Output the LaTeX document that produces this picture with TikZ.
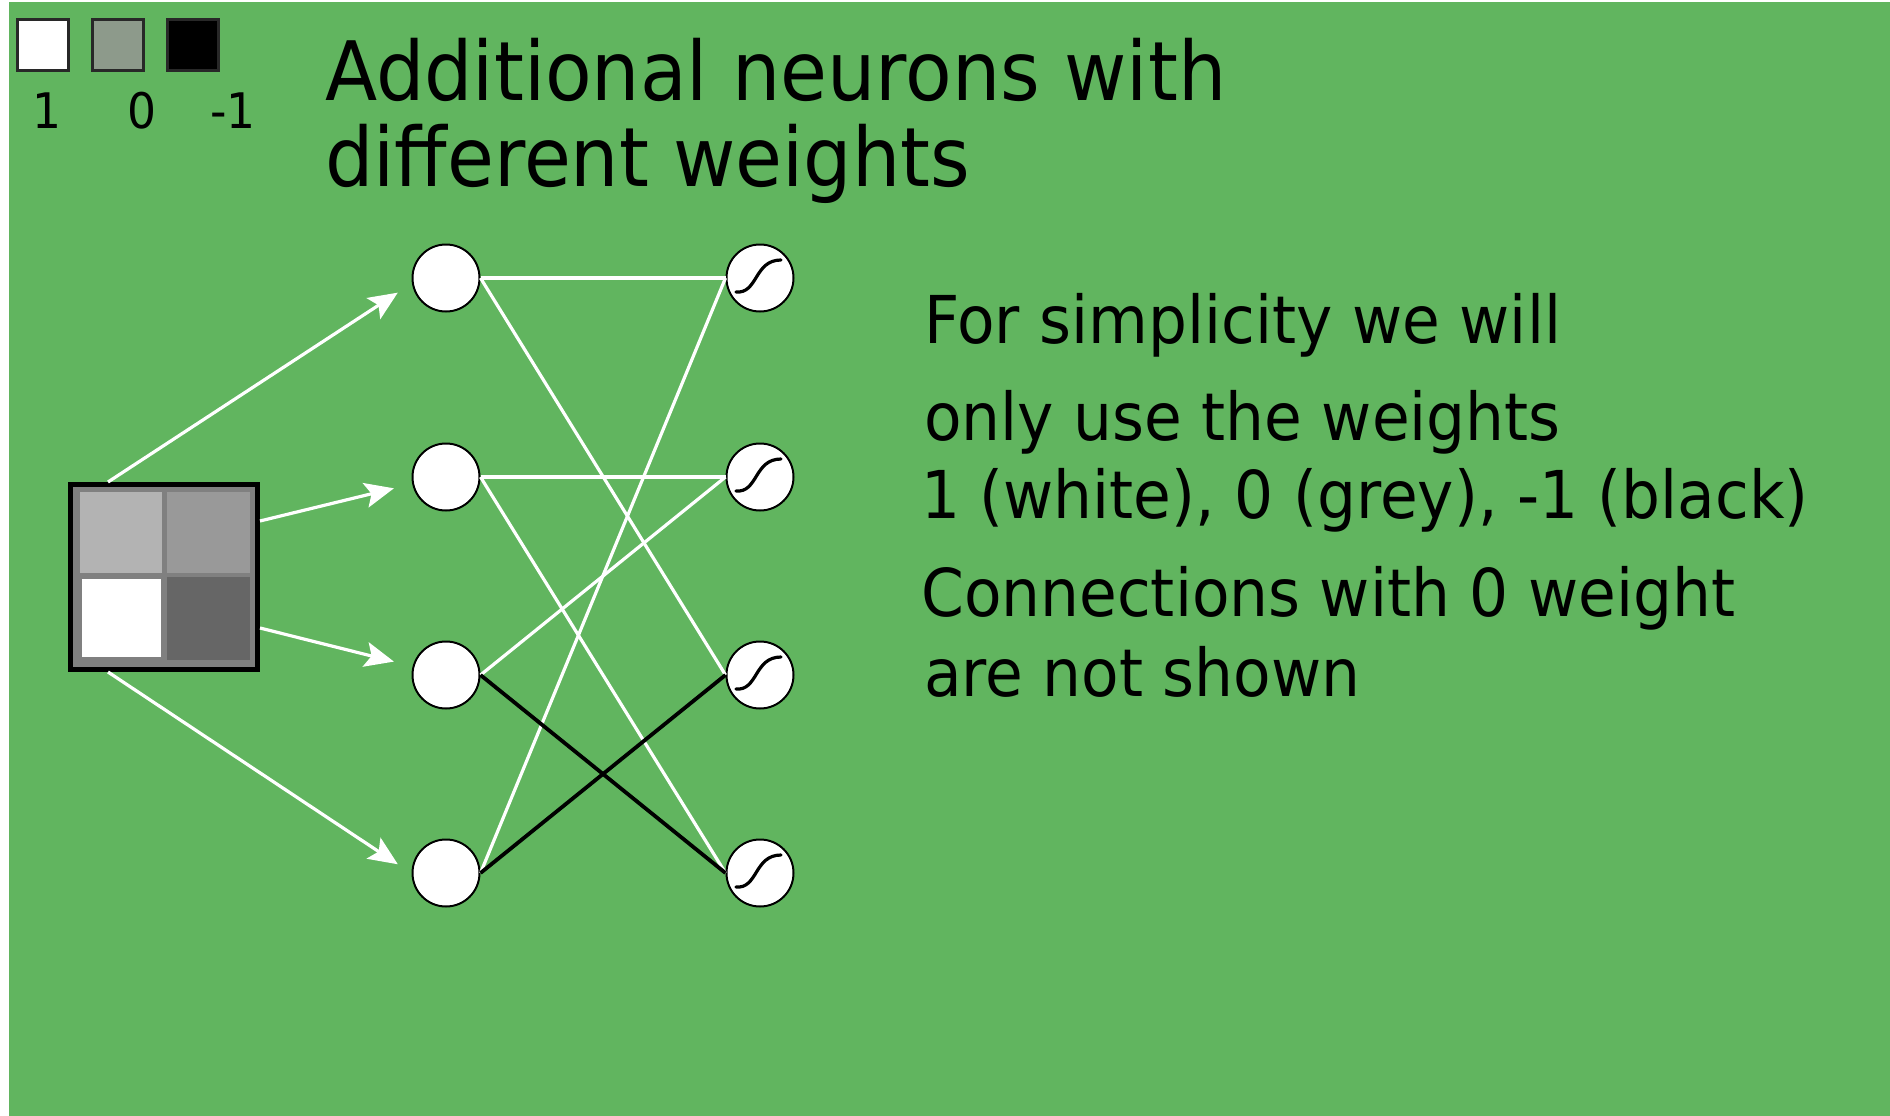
\documentclass[tikz,border=0pt]{standalone}
\usepackage{fontspec}
\setmainfont[FakeStretch=0.93]{DejaVu Sans}
\usetikzlibrary{arrows.meta}
\definecolor{bg}{RGB}{97,181,95}
\definecolor{legendgrey}{RGB}{141,154,139}
\definecolor{sqborder}{RGB}{40,40,40}
\definecolor{frame}{RGB}{128,128,128}
\definecolor{cellA}{RGB}{179,179,179}
\definecolor{cellB}{RGB}{153,153,153}
\definecolor{cellD}{RGB}{102,102,102}
\begin{document}
\begin{tikzpicture}[x=1pt,y=-1pt,
  hid/.style={circle,draw=black,fill=white,line width=2pt,minimum size=67pt,inner sep=0pt},
  outn/.style={hid},
  wline/.style={white,line width=3.2pt},
  bline/.style={black,line width=3.8pt},
  arr/.style={white,line width=3.2pt,-{Stealth[length=29pt,width=25pt,inset=6pt]},shorten >=14pt},
  legsq/.style={draw=sqborder,line width=3pt,minimum size=51pt,inner sep=0pt},
  inbox/.style={draw=black,fill=frame,line width=5pt,minimum width=187pt,minimum height=185pt,inner sep=0pt},
  titletext/.style={anchor=base west,inner sep=0pt,font=\fontsize{82}{86}\selectfont},
  bodytext/.style={anchor=base west,inner sep=0pt,font=\fontsize{66}{72}\selectfont},
  legtext/.style={anchor=base,inner sep=0pt,font=\fontsize{49}{54}\selectfont},
  sigmoid/.pic={\draw[black,line width=3.2pt,line cap=round] (-24,14) .. controls (-2,16) and (-6,-18) .. (21,-18);}
]
\useasboundingbox (0,0) rectangle (1890,1116);
\fill[bg] (0,0) rectangle (1890,1116);
\fill[white] (0,0) rectangle (9,1116);
\fill[white] (0,0) rectangle (1890,2);

% legend
\node[legsq,fill=white] (l1) at (42.5,45) {};
\node[legsq,fill=legendgrey] (l2) at (117.5,45) {};
\node[legsq,fill=black] (l3) at (193,45) {};
\node[legtext] (t1) at (47,128) {1};
\node[legtext] (t0) at (142,128) {0};
\node[legtext] (tm) at (233,128) {-1};

% title
\node[titletext] (title1) at (325,100) {Additional neurons with};
\node[titletext] (title2) at (325,186) {different weights};

% explanation
\node[bodytext] (e1) at (924,343) {For simplicity we will};
\node[bodytext] (e2) at (924,440) {only use the weights};
\node[bodytext] (e3) at (921,518) {1 (white), 0 (grey), -1 (black)};
\node[bodytext] (e4) at (921,616) {Connections with 0 weight};
\node[bodytext] (e5) at (924,696) {are not shown};

% input square
\node[inbox] (inp) at (164,577) {};
\fill[cellA] (80,492) rectangle (162,573);
\fill[cellB] (167,492) rectangle (250,573);
\fill[white] (82,579) rectangle (161,657);
\fill[cellD] (167,577) rectangle (250,660);

% hidden and output neurons
\node[hid] (h1) at (446,278) {};
\node[hid] (h2) at (446,477) {};
\node[hid] (h3) at (446,675) {};
\node[hid] (h4) at (446,873) {};
\node[outn] (o1) at (760,278) {};
\node[outn] (o2) at (760,477) {};
\node[outn] (o3) at (760,675) {};
\node[outn] (o4) at (760,873) {};

% arrows from input
\draw[arr] ([xshift=-56pt]inp.north) -- ([xshift=-2pt,yshift=-7pt]h1.west);
\draw[arr] ([yshift=56pt]inp.east) -- ([xshift=-4pt,yshift=-8pt]h2.west);
\draw[arr] ([yshift=-51pt]inp.east) -- ([xshift=-4pt,yshift=10pt]h3.west);
\draw[arr] ([xshift=-56pt]inp.south) -- ([xshift=-2pt,yshift=1pt]h4.west);

% connections
\draw[wline] (h1.east) -- (o1.west);
\draw[wline] (h1.east) -- (o3.west);
\draw[wline] (h2.east) -- (o2.west);
\draw[wline] (h2.east) -- (o4.west);
\draw[wline] (h3.east) -- (o2.west);
\draw[wline] (h4.east) -- (o1.west);
\draw[bline] (h3.east) -- (o4.west);
\draw[bline] (h4.east) -- (o3.west);

% redraw node interiors on top of the connectors
\foreach \n in {h1,h2,h3,h4,o1,o2,o3,o4}{
  \fill[white] (\n.center) circle (32pt);
}
\foreach \n in {o1,o2,o3,o4}{
  \pic at (\n) {sigmoid};
}
\end{tikzpicture}
\end{document}
